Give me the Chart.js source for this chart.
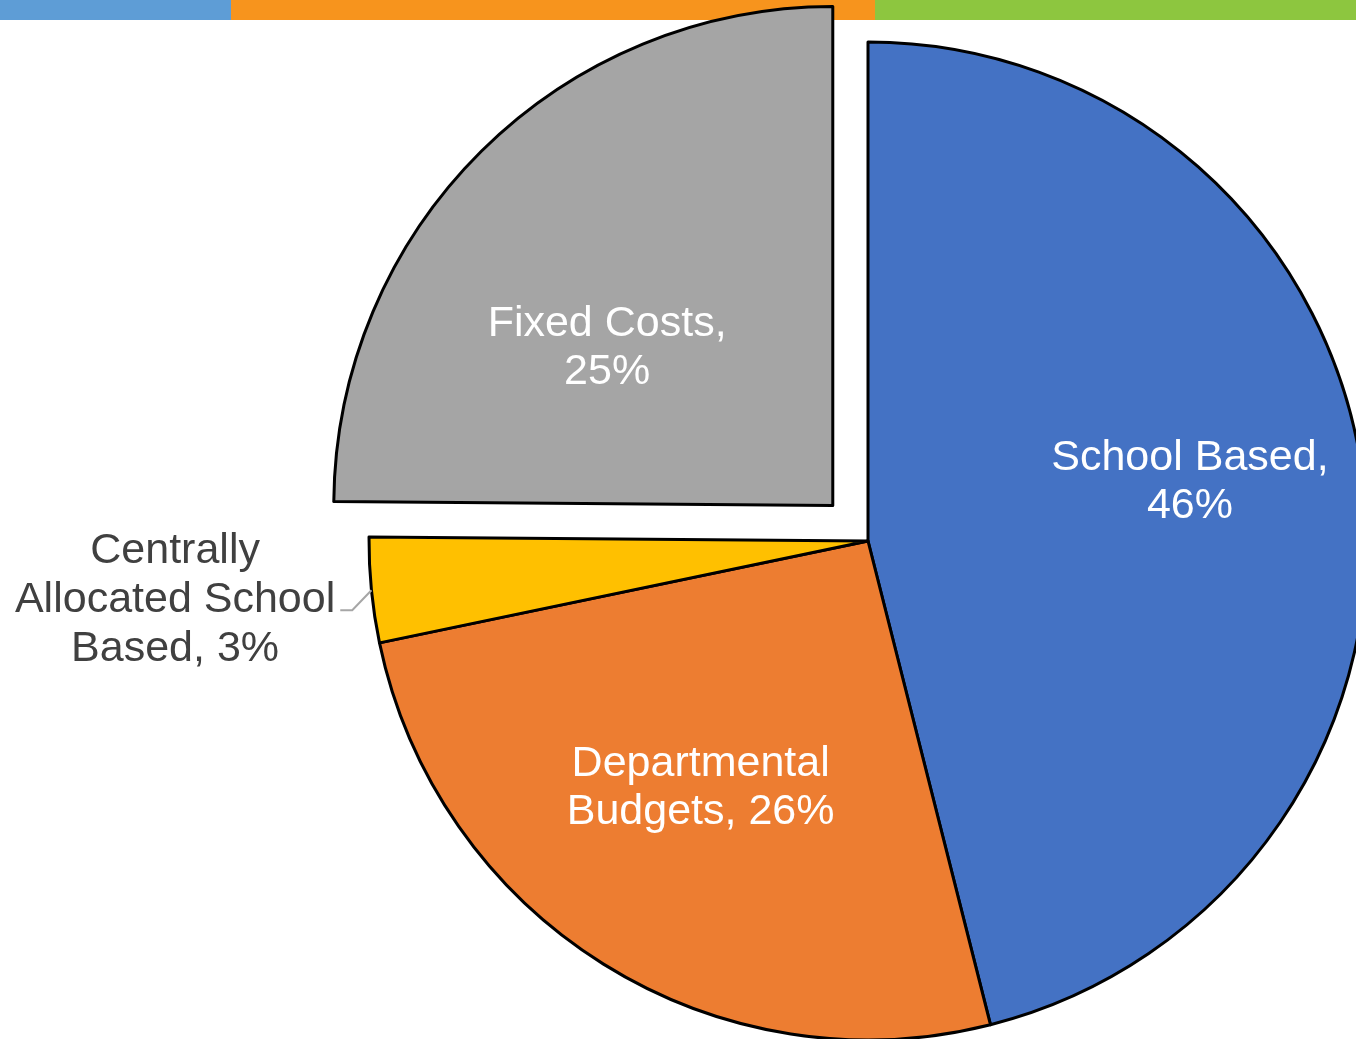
<!DOCTYPE html>
<html>
<head>
<meta charset="utf-8">
<title>Budget allocation</title>
<script src="https://cdn.jsdelivr.net/npm/chart.js@4.4.1/dist/chart.umd.min.js"></script>
<style>
  html, body { margin: 0; padding: 0; background: #ffffff; overflow: hidden; }
  #wrap { position: relative; width: 1356px; height: 1039px; }
  canvas { display: block; }
</style>
</head>
<body>
<div id="wrap"><canvas id="pie" width="1356" height="1039"></canvas></div>
<script>
// Budget split by category (percent of total); labels show the rounded share
const categories = ['School Based', 'Departmental Budgets', 'Centrally Allocated School Based', 'Fixed Costs'];
const shares = [46.1, 25.7, 3.4, 24.9];
// Label lines per slice; {v} is replaced by the rounded slice value
const labelLines = [
  ['School Based,', '{v}%'],
  ['Departmental', 'Budgets, {v}%'],
  ['Centrally', 'Allocated School', 'Based, {v}%'],
  ['Fixed Costs,', '{v}%']
];
const sliceColors = ['#4472C4', '#ED7D31', '#FFC000', '#A5A5A5'];
const explode = [0, 0, 0, 200];

// Label placement relative to each slice: radius fraction, angle nudge (deg), line height
const labelPlace = [
  { f: 0.657, da: -3.8, lh: 48, color: '#ffffff', outside: false },
  { f: 0.592, da: 2.5, lh: 48, color: '#ffffff', outside: false },
  { f: 1.393, da: 1.1, lh: 49, color: '#404040', outside: true },
  { f: 0.555, da: -9.8, lh: 48, color: '#ffffff', outside: false }
];

const headerBand = {
  id: 'headerBand',
  beforeDraw(chart) {
    const ctx = chart.ctx;
    ctx.save();
    ctx.fillStyle = '#ffffff';
    ctx.fillRect(0, 0, chart.width, chart.height);
    const bands = [[0, 231, '#5E9DD6'], [231, 875, '#F7941D'], [875, chart.width, '#8DC63F']];
    bands.forEach(([x0, x1, c]) => {
      ctx.fillStyle = c;
      ctx.fillRect(x0, 0, x1 - x0, 20);
    });
    ctx.restore();
  }
};

const sliceLabels = {
  id: 'sliceLabels',
  afterDatasetsDraw(chart) {
    const ctx = chart.ctx;
    const meta = chart.getDatasetMeta(0);
    ctx.save();
    ctx.font = '43px "Liberation Sans", Arial, sans-serif';
    ctx.textAlign = 'center';
    ctx.textBaseline = 'alphabetic';
    meta.data.forEach((arc, i) => {
      const p = arc.getProps(['x', 'y', 'startAngle', 'endAngle', 'outerRadius', 'circumference']);
      const mid = (p.startAngle + p.endAngle) / 2;
      // same shift the arc element applies when exploded
      const off = (arc.options.offset || 0) / 4;
      const fix = 1 - Math.sin(Math.min(Math.PI, p.circumference || 0));
      const shift = off + off * fix;
      const cx = p.x + Math.cos(mid) * shift;
      const cy = p.y + Math.sin(mid) * shift;
      const pl = labelPlace[i];
      const a = mid + pl.da * Math.PI / 180;
      const lx = cx + Math.cos(a) * p.outerRadius * pl.f;
      const ly = cy + Math.sin(a) * p.outerRadius * pl.f;
      const lines = labelLines[i].map(s => s.replace('{v}', Math.round(shares[i])));
      const top = ly - (lines.length - 1) * pl.lh / 2;
      ctx.fillStyle = pl.color;
      lines.forEach((s, k) => ctx.fillText(s, lx, top + k * pl.lh + 15.5));
      if (pl.outside) {
        const w = Math.max(...lines.map(s => ctx.measureText(s).width));
        const right = lx + w / 2;
        const ex = cx + Math.cos(mid) * p.outerRadius;
        const ey = cy + Math.sin(mid) * p.outerRadius;
        ctx.strokeStyle = '#A6A6A6';
        ctx.lineWidth = 2;
        ctx.beginPath();
        ctx.moveTo(ex, ey);
        ctx.lineTo(right + 17, ly + 14);
        ctx.lineTo(right + 5, ly + 14);
        ctx.stroke();
      }
    });
    ctx.restore();
  }
};

new Chart(document.getElementById('pie'), {
  type: 'pie',
  data: {
    labels: categories,
    datasets: [{
      data: shares,
      backgroundColor: sliceColors,
      borderColor: '#000000',
      borderWidth: 3,
      borderJoinStyle: 'round',
      offset: explode,
      hoverOffset: 0,
      radius: 499,
      clip: false
    }]
  },
  options: {
    responsive: false,
    animation: false,
    devicePixelRatio: 1,
    radius: 499,
    layout: { padding: { left: 380, right: 0, top: 43, bottom: 0 } },
    plugins: {
      legend: { display: false },
      tooltip: { enabled: false }
    }
  },
  plugins: [headerBand, sliceLabels]
});
</script>
</body>
</html>
